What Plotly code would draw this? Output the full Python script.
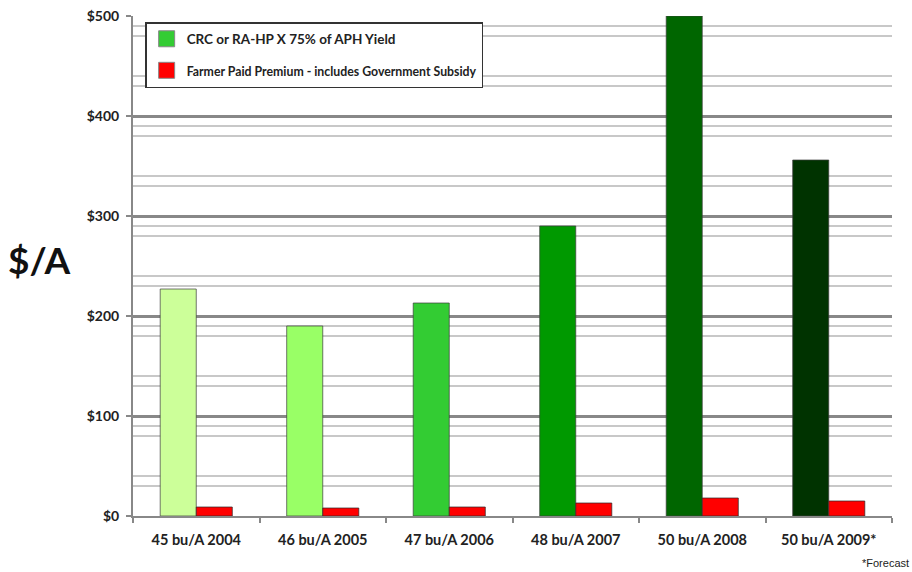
import plotly.graph_objects as go

categories = ["45 bu/A 2004", "46 bu/A 2005", "47 bu/A 2006", "48 bu/A 2007", "50 bu/A 2008", "50 bu/A 2009*"]
coverage = [227, 190, 213, 290, 500, 356]
premium = [9, 8, 9, 13, 18, 15]
coverage_colors = ["#CCFF99", "#99FF66", "#33CC33", "#009900", "#006600", "#003300"]
y_ticks = [0, 100, 200, 300, 400, 500]
y_labels = ["$0", "$100", "$200", "$300", "$400", "$500"]
minor_offsets = [30, 40, 80, 90]

name_cov = "CRC or RA-HP X 75% of APH Yield"
name_prem = "Farmer Paid Premium - includes Government Subsidy"

font = "Lato"

fig = go.Figure()
fig.add_trace(go.Bar(x=categories, y=coverage, name=name_cov, showlegend=False,
                     marker=dict(color=coverage_colors, line=dict(color="rgba(60,60,60,0.7)", width=1))))
fig.add_trace(go.Bar(x=categories, y=premium, name=name_prem, showlegend=False,
                     marker=dict(color="#FF0000", line=dict(color="rgba(40,40,40,0.7)", width=1))))

# legend proxies
fig.add_trace(go.Scatter(x=[None], y=[None], mode="markers", name="<b>" + name_cov + "</b>",
                         legendgroup="a",
                         marker=dict(symbol="square", size=18, color="#33CC33", line=dict(color="#888", width=1))))
fig.add_trace(go.Scatter(x=[None], y=[None], mode="markers",
                         name="<b><span style='font-size:12.3px'>" + name_prem + "</span></b>",
                         legendgroup="b",
                         marker=dict(symbol="square", size=18, color="#FF0000", line=dict(color="#888", width=1))))

shapes = []
for base in y_ticks[:-1]:
    for off in minor_offsets:
        v = base + off
        shapes.append(dict(type="line", xref="paper", yref="y", x0=0, x1=1, y0=v, y1=v,
                           line=dict(color="#C8C8C8", width=2), layer="below"))

fig.update_layout(
    width=912, height=572,
    margin=dict(l=133, r=20, t=16, b=56, autoexpand=False),
    plot_bgcolor="white", paper_bgcolor="white",
    barmode="group", bargap=0.43, bargroupgap=0,
    shapes=shapes,
    font=dict(family=font, color="#222"),
    legend=dict(x=0.016, y=0.988, xanchor="left", yanchor="top",
                bgcolor="white", bordercolor="#333", borderwidth=1.5,
                font=dict(size=13.5, family=font, color="#222"),
                tracegroupgap=11, itemsizing="trace", traceorder="grouped"),
    xaxis=dict(type="category", showgrid=False, showline=True, linecolor="#888", linewidth=2,
               ticks="outside", tickson="boundaries", ticklen=5, tickcolor="#888", tickwidth=2,
               tickfont=dict(family=font, size=14.5, color="#222"), ticklabelstandoff=10,
               automargin=False),
    yaxis=dict(range=[0, 500], tickvals=y_ticks, ticktext=["<b>%s</b>" % t for t in y_labels],
               showgrid=True, gridcolor="#888", gridwidth=3, zeroline=False,
               showline=True, linecolor="#888", linewidth=2,
               ticks="outside", ticklen=5, tickcolor="#888", tickwidth=2,
               tickfont=dict(family=font, size=14, color="#222"), ticklabelstandoff=4,
               automargin=False),
    annotations=[
        dict(text="<b>$/A</b>", xref="paper", yref="paper", x=-0.167, y=0.514, xanchor="left", yanchor="middle",
             showarrow=False, font=dict(family=font, size=37, color="#111")),
        dict(text="*Forecast", xref="paper", yref="paper", x=1.025, y=-0.094, xanchor="right", yanchor="middle",
             showarrow=False, font=dict(family="Liberation Sans", size=11, color="#222")),
    ],
)
fig.update_xaxes(ticktext=["<b>%s</b>" % c for c in categories], tickvals=categories)

fig.write_html("out.html")
